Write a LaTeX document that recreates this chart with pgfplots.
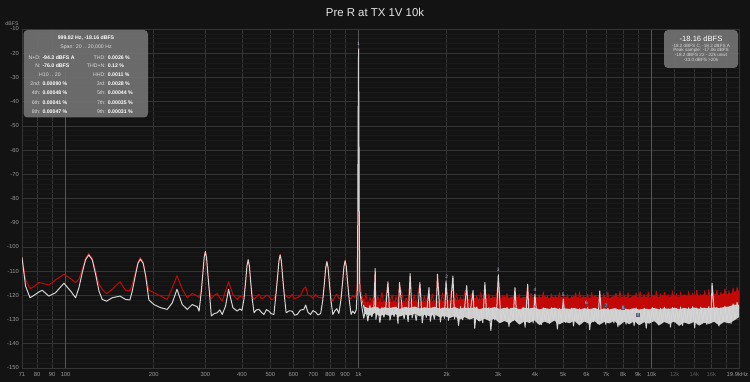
\documentclass[border=0pt]{standalone}
\usepackage{fontspec}
\setmainfont{Liberation Sans}
\usepackage{pgfplots}
\pgfplotsset{compat=1.18}
\usepackage{pgfplotstable}
\usepgfplotslibrary{fillbetween}
\definecolor{bg}{HTML}{131313}
\definecolor{gridmin}{HTML}{191919}
\definecolor{gridmaj}{HTML}{343434}
\definecolor{gridbig}{HTML}{555555}
\definecolor{trred}{HTML}{C30808}
\definecolor{trwhite}{HTML}{D4D4D4}
\definecolor{bandwhite}{HTML}{CDCDCD}
\definecolor{ticklab}{HTML}{9A9A9A}
\definecolor{tickfaint}{HTML}{5C5C5C}
\definecolor{boxfill}{HTML}{727272}
\definecolor{boxlab}{HTML}{DADADA}
\definecolor{harmlab}{HTML}{B4C2E2}
\definecolor{harmbox}{HTML}{3E4862}

\begin{document}
\pgfplotstableread{
f r w
71 -104.3 -104.3
73 -113.3 -116.1
75.6 -117.2 -121.0
78 -116.4 -120.0
81.1 -114.7 -118.6
83.2 -115.0 -117.9
87.7 -115.7 -120.3
92.4 -113.6 -118.9
98.7 -111.3 -115.0
104 -113.1 -118.2
108.2 -114.7 -121.0
111.1 -113.3 -116.8
114 -109.2 -110.6
117 -104.7 -105.3
120 -102.7 -103.3
123.3 -104.7 -105.3
126.6 -109.9 -111.3
130 -115.4 -118.2
133.4 -117.5 -121.7
138 -119.3 -122.4
144.3 -117.5 -121.0
153.3 -114.4 -120.3
160.3 -117.9 -121.7
165.8 -118.2 -121.9
168.9 -115.4 -118.2
173.4 -110.3 -111.3
176.6 -106.4 -106.8
180 -104.4 -105.0
184.1 -106.4 -106.8
187.6 -111.3 -111.9
192.5 -117.9 -121.9
200.2 -118.9 -123.8
211 -120.3 -125.1
222.3 -121.7 -125.8
231.3 -116.8 -123.1
240 -111.9 -117.5
250.2 -117.5 -123.8
260.3 -121.0 -125.8
270.6 -119.2 -123.8
281.5 -120.3 -124.7
285.6 -121.0 -126.5
290.5 -118.0 -118.5
294.1 -111.0 -111.2
297.2 -104.3 -104.4
300 -101.7 -101.9
302.8 -104.3 -104.4
305.9 -111.0 -111.2
309.6 -118.0 -118.5
314.4 -121.5 -128.5
322 -120.0 -127.5
329.4 -119.2 -127.2
336 -121.0 -126.0
342.6 -122.4 -127.9
351.7 -118.2 -124.4
360 -114.4 -117.5
372.5 -119.6 -125.1
385.5 -121.7 -126.5
393 -120.4 -125.6
400 -120.8 -126.2
406.6 -120.0 -121.3
411.7 -114.3 -114.3
416 -107.8 -107.8
420 -105.0 -105.3
424 -107.8 -107.8
428.3 -114.3 -114.3
433.4 -120.0 -121.3
440 -121.7 -127.2
448 -120.6 -126.0
457 -119.6 -125.8
466 -121.4 -127.0
475.3 -121.0 -127.9
485 -119.9 -125.9
494.3 -120.3 -126.5
504 -121.8 -127.6
514.2 -121.4 -127.9
522.7 -119.3 -119.3
529.3 -112.3 -112.3
534.9 -105.8 -105.8
540 -103.0 -103.3
545.1 -105.8 -105.8
550.7 -112.3 -112.3
557.3 -119.3 -119.3
566 -120.3 -127.2
580 -121.1 -126.4
593.7 -119.6 -126.5
605 -121.3 -128.2
617.5 -121.0 -127.9
633 -120.2 -126.1
650.5 -117.2 -125.8
660 -116.5 -124.0
672 -120.0 -127.0
685.8 -120.3 -127.9
699 -121.2 -126.3
713.3 -119.6 -126.9
727 -120.8 -128.1
742.6 -121.0 -127.5
755 -121.0 -122.1
764.6 -115.1 -115.1
772.7 -108.6 -108.6
780 -105.8 -106.1
787.3 -108.6 -108.6
795.4 -115.1 -115.1
805 -121.0 -122.1
817 -122.4 -127.9
830 -120.6 -126.4
843 -119.5 -125.5
857 -121.5 -127.5
871 -120.8 -121.7
882.2 -114.7 -114.7
891.5 -108.2 -108.2
900 -105.5 -105.7
908.5 -108.2 -108.2
917.8 -114.7 -114.7
929 -120.8 -121.7
943 -121.5 -127.9
955 -120.0 -126.5
970 -121.0 -127.5
982 -119.5 -126.0
990 -115.0 -118.0
994 -90 -90
997 -50 -50
1000 -18.16 -18.16
1003 -50 -50
1006 -90 -90
1010 -115.0 -118.0
1026 -120.2 -124.6
1042 -123.8 -129.4
1059 -119.1 -125.3
1076 -124.2 -130.6
1093 -120.8 -124.2
1110 -123.1 -128.8
1128 -119.6 -125.7
1140 -110.0 -108.9
1146 -124.5 -129.9
1164 -120.4 -124.9
1183 -123.6 -131.2
1202 -118.9 -125.1
1221 -124.0 -129.0
1240 -120.9 -124.4
1260 -115.4 -114.4
1280 -123.4 -130.2
1301 -119.8 -125.9
1322 -124.6 -128.7
1343 -120.5 -124.8
1364 -123.2 -131.6
1380 -115.7 -114.7
1408 -119.3 -125.4
1431 -124.1 -129.6
1454 -121.0 -124.9
1477 -123.5 -130.9
1500 -112.0 -111.0
1524 -124.3 -129.3
1549 -119.7 -125.6
1573 -123.9 -130.4
1599 -118.6 -124.7
1620 -115.7 -114.7
1650 -124.7 -131.4
1677 -120.1 -125.2
1703 -123.4 -129.1
1740 -117.8 -116.8
1758 -124.0 -130.7
1786 -119.4 -125.8
1815 -123.7 -129.8
1844 -120.6 -124.6
1860 -112.2 -111.2
1903 -124.2 -131.0
1934 -119.0 -125.3
1965 -123.3 -129.5
1990 -115.0 -114.0
2028 -124.5 -130.3
2060 -120.3 -124.9
2100 -113.0 -112.0
2127 -124.1 -129.7
2161 -119.2 -125.6
2195 -123.6 -132.4
2230 -120.7 -124.7
2266 -124.4 -130.1
2302 -118.8 -125.2
2340 -117.0 -116.0
2376 -123.9 -129.4
2414 -119.9 -125.5
2460 -119.0 -118.0
2492 -124.3 -133.6
2532 -120.2 -124.8
2572 -123.5 -130.5
2613 -118.9 -125.9
2655 -124.6 -131.3
2700 -115.7 -114.7
2741 -123.7 -129.8
2785 -119.5 -125.1
2829 -124.2 -134.5
2874 -120.4 -125.4
2920 -123.4 -130.2
2967 -119.0 -124.6
3000 -112.5 -111.5
3063 -124.5 -131.1
3111 -120.0 -125.7
3161 -123.8 -129.9
3212 -119.3 -125.0
3263 -124.0 -132.8
3315 -120.6 -125.3
3368 -123.6 -130.4
3420 -117.8 -116.8
3476 -124.3 -131.0
3532 -119.6 -125.9
3588 -123.5 -129.6
3646 -120.8 -124.9
3704 -124.4 -133.2
3780 -116.4 -115.4
3823 -123.9 -130.5
3884 -119.2 -125.4
3946 -124.6 -131.4
4000 -120.5 -119.5
4073 -123.7 -130.0
4138 -119.8 -126.0
4205 -124.1 -132.1
4272 -118.7 -125.2
4340 -124.5 -130.6
4410 -120.3 -125.7
4480 -123.8 -131.5
4552 -119.4 -125.1
4624 -124.7 -130.3
4698 -120.1 -126.1
4773 -124.0 -133.9
4850 -118.9 -125.4
4927 -124.3 -130.8
5000 -122.5 -121.5
5086 -124.6 -131.2
5167 -119.7 -125.8
5250 -123.9 -130.1
5334 -120.4 -125.3
5419 -124.5 -132.6
5506 -119.0 -126.2
5594 -124.1 -130.7
5683 -118.5 -125.5
5774 -124.8 -131.3
5867 -120.2 -125.9
5960 -123.7 -130.4
6056 -119.5 -125.0
6153 -124.4 -134.2
6251 -118.8 -126.0
6351 -124.6 -130.9
6452 -120.0 -125.4
6556 -124.0 -131.6
6660 -119.2 -118.2
6767 -124.7 -130.2
6875 -119.3 -125.7
6985 -124.2 -132.0
7097 -118.6 -125.2
7210 -124.9 -130.8
7326 -120.5 -126.1
7443 -124.3 -131.4
7562 -119.1 -125.5
7683 -124.6 -133.0
7806 -118.4 -125.9
7931 -124.0 -130.6
8058 -119.8 -125.3
8187 -124.8 -131.9
8318 -118.9 -126.0
8451 -124.4 -130.4
8586 -120.2 -125.6
8724 -124.7 -132.5
8863 -119.0 -125.2
9005 -124.1 -131.1
9149 -118.5 -125.8
9295 -124.9 -130.7
9444 -119.6 -125.4
9595 -124.3 -133.5
9749 -118.7 -126.0
9905 -124.6 -131.0
10063 -119.9 -125.1
10224 -124.2 -130.5
10388 -118.3 -125.7
10554 -124.8 -132.2
10723 -119.4 -125.3
10895 -124.5 -131.3
11069 -118.8 -124.9
11246 -124.0 -130.8
11426 -119.7 -125.6
11609 -124.7 -133.1
11795 -118.2 -125.0
11984 -124.3 -131.0
12175 -119.3 -125.5
12370 -124.9 -130.4
12568 -118.6 -124.8
12769 -124.4 -132.4
12974 -119.8 -125.4
13181 -124.1 -131.2
13392 -118.4 -125.1
13606 -124.6 -130.6
13824 -119.1 -124.7
14045 -124.8 -133.4
14270 -117.9 -125.3
14498 -124.2 -131.1
14730 -119.5 -124.9
14966 -124.5 -130.9
15205 -118.1 -125.5
15448 -124.0 -132.0
15696 -117.6 -124.6
15947 -124.7 -131.3
16100 -116.0 -115.0
16461 -124.1 -130.7
16725 -117.9 -124.9
16992 -124.4 -132.7
17264 -118.7 -125.2
17540 -123.9 -131.0
17821 -117.3 -124.5
18106 -124.3 -130.5
18396 -118.2 -124.8
18690 -123.6 -131.6
18989 -117.0 -123.6
19293 -123.2 -129.8
19602 -116.8 -122.9
19900 -119.5 -125.5
}\spectrum
% envelopes of the noise bands above 1 kHz: red top, white top, white bottom
\pgfplotstableread{
f ru wu lo
1010 -118.0 -118.0 -118.0
1050 -122.6 -124.8 -127.6
1092 -122.9 -125.3 -128.4
1136 -122.2 -124.6 -127.3
1181 -123.0 -125.5 -128.6
1229 -122.5 -124.9 -127.8
1278 -122.8 -125.2 -128.5
1329 -122.3 -124.7 -127.6
1382 -123.0 -125.6 -128.8
1437 -122.4 -124.8 -127.9
1495 -122.7 -125.1 -128.3
1555 -122.2 -124.6 -127.5
1617 -122.9 -125.4 -128.7
1682 -122.4 -124.9 -128.0
1749 -122.8 -125.3 -128.6
1819 -122.1 -124.7 -127.9
1892 -122.6 -125.5 -129.0
1967 -122.0 -125.0 -128.5
2046 -122.3 -125.4 -129.4
2128 -121.6 -124.8 -128.6
2213 -122.0 -125.6 -130.0
2301 -121.3 -125.0 -129.0
2393 -121.8 -125.3 -130.0
2489 -121.1 -124.9 -129.3
2589 -121.6 -125.7 -130.8
2692 -120.8 -125.1 -129.6
2800 -121.3 -125.4 -130.6
2912 -120.7 -124.8 -129.5
3028 -121.4 -125.6 -131.5
3150 -120.4 -125.2 -130.6
3276 -121.0 -125.5 -131.6
3407 -120.2 -125.0 -130.2
3543 -121.2 -125.7 -132.1
3685 -120.6 -125.1 -130.7
3832 -121.3 -125.4 -131.4
3985 -120.4 -125.0 -130.3
4145 -121.0 -125.8 -132.3
4310 -120.3 -125.2 -130.8
4483 -121.2 -125.6 -131.7
4662 -120.5 -125.1 -130.4
4849 -121.0 -125.7 -132.0
5043 -120.4 -125.3 -130.9
5244 -121.3 -125.6 -131.5
5454 -120.2 -125.2 -130.5
5672 -121.1 -125.8 -132.4
5899 -120.6 -125.3 -130.8
6135 -121.2 -125.7 -131.8
6380 -120.3 -125.2 -130.6
6636 -121.0 -125.9 -132.2
6901 -120.5 -125.4 -131.0
7177 -121.3 -125.8 -131.6
7464 -120.2 -125.3 -130.5
7763 -121.0 -125.9 -132.5
8073 -120.4 -125.4 -130.9
8396 -121.2 -125.8 -131.9
8732 -120.1 -125.3 -130.7
9082 -120.9 -125.9 -132.3
9445 -120.3 -125.4 -131.1
9823 -121.0 -125.7 -131.7
10216 -120.0 -125.2 -130.6
10624 -120.8 -125.8 -132.4
11049 -119.9 -125.3 -131.0
11491 -120.7 -125.6 -131.8
11951 -119.8 -125.1 -130.8
12429 -120.6 -125.7 -132.6
12926 -119.7 -125.2 -131.2
13443 -120.5 -125.6 -131.9
13981 -119.6 -125.0 -130.9
14540 -120.4 -125.5 -132.5
15122 -119.5 -125.1 -131.3
15727 -120.2 -125.4 -131.8
16356 -119.3 -124.9 -130.9
17010 -120.0 -125.3 -132.4
17690 -119.1 -124.8 -131.0
18398 -119.6 -124.6 -131.6
19134 -118.5 -123.8 -130.4
19900 -118.0 -124.0 -129.0
}\envelope
\begin{tikzpicture}[x=1pt,y=1pt,
  lab/.style={inner sep=0pt, font=\fontsize{5.2}{6}\selectfont, text=boxlab},
  val/.style={inner sep=0pt, font=\bfseries\fontsize{5.2}{6}\selectfont, text=white},
  hl/.style={inner sep=0.5pt, text=harmlab, font=\fontsize{4.8}{5}\selectfont},
  hb/.style={hl, fill=harmbox, fill opacity=0.85, text opacity=1}]
\pgfplotsset{set layers}
\begin{axis}[
  at={(22pt,14pt)}, anchor=south west,
  scale only axis, width=717pt, height=339pt,
  xmode=log, log basis x=10,
  xmin=71, xmax=19900, ymin=-150, ymax=-10,
  axis line style={draw=gridmaj, line width=0.6pt},
  major tick length=0pt, minor tick length=0pt,
  tick style={draw=none},
  xmajorgrids=true, xminorgrids=false,
  ymajorgrids=true, yminorgrids=true,
  minor y tick num=4,
  major grid style={draw=gridmaj, line width=0.6pt},
  minor grid style={draw=gridmin, line width=0.4pt},
  xtick={71,80,90,200,300,400,500,600,700,800,900,2000,3000,4000,5000,6000,7000,8000,9000,12000,14000,16000,18000,19900},
  xticklabels={71,80,90,200,300,400,500,600,700,800,900,2k,3k,4k,5k,6k,7k,8k,9k,\textcolor{tickfaint}{12k},\textcolor{tickfaint}{14k},\textcolor{tickfaint}{16k},,\makebox[18pt][r]{19.9kHz}},
  extra x ticks={100,1000,10000},
  extra x tick labels={100,1k,10k},
  extra x tick style={major grid style={draw=gridbig, line width=0.8pt}},
  ytick={-150,-140,-130,-120,-110,-100,-90,-80,-70,-60,-50,-40,-30,-20,-10},
  yticklabels={-150,-140,-130,-120,-110,-100,-90,-80,-70,-60,-50,-40,-30,-20,-10},
  tick label style={font=\fontsize{5.8}{7}\selectfont, text=ticklab},
  xticklabel style={anchor=base, inner sep=0pt, yshift=-9pt},
  yticklabel style={anchor=east, inner sep=0pt, xshift=-3pt},
  clip=true,
]
\addplot[draw=none, name path=RU, forget plot] table[x=f, y=ru] {\envelope};
\addplot[draw=none, name path=WU, forget plot] table[x=f, y=wu] {\envelope};
\addplot[draw=none, name path=LO, forget plot] table[x=f, y=lo] {\envelope};
\addplot[fill=trred, draw=none, forget plot] fill between[of=RU and WU];
\addplot[draw=trred, line width=1pt, line join=round] table[x=f, y=r] {\spectrum};
\addplot[fill=bandwhite, draw=none, forget plot] fill between[of=WU and LO];
\addplot[draw=trwhite, line width=1pt, line join=round] table[x=f, y=w] {\spectrum};
% harmonic number labels
\node[hl] at (axis cs:1000,-16.2) {1};
\node[hl] at (axis cs:2000,-112.2) {2};
\node[hl] at (axis cs:3000,-109.6) {3};
\node[hl] at (axis cs:4000,-117.6) {4};
\node[hl] at (axis cs:5000,-119.6) {5};
\node[hb] at (axis cs:6000,-123.3) {6};
\node[hb] at (axis cs:7000,-124.4) {7};
\node[hb] at (axis cs:8000,-125.0) {8};
\node[hb] at (axis cs:9000,-128.1) {9};
\end{axis}
\begin{pgfonlayer}{axis background}
\fill[bg] (0,0) rectangle (750,382);
\end{pgfonlayer}
% title and unit
\node[font=\fontsize{11.4}{13}\selectfont, text=white!90!black] at (375,370) {Pre R at TX 1V 10k};
\node[font=\fontsize{5.2}{6}\selectfont, text=ticklab] at (12,358.5) {dBFS};
% left info box
\fill[boxfill, opacity=0.92, rounded corners=4pt] (23.5,264.5) rectangle (148,352);
\node[val, anchor=base] at (86,342.8) {999.82 Hz, -18.16 dBFS};
\node[lab, anchor=base] at (86,333.4) {Span: 20 .. 20,000 Hz};
\newcommand{\boxrow}[5]{%
  \node[lab, anchor=base east] at (40.7,#1) {#2};
  \node[val, anchor=base west] at (42.3,#1) {#3};
  \node[lab, anchor=base east] at (106,#1) {#4};
  \node[val, anchor=base west] at (107.7,#1) {#5};}
\boxrow{322.4}{N+D:}{-94.3 dBFS A}{THD:}{0.0026 \%}
\boxrow{314.4}{N:}{-76.0 dBFS}{THD+N:}{0.12 \%}
\node[lab, anchor=base west] at (39,305.8) {H10 .. 20};
\node[lab, anchor=base east] at (106,305.8) {HHD:};
\node[val, anchor=base west] at (107.7,305.8) {0.0011 \%};
\boxrow{296.8}{2nd:}{0.00090 \%}{3rd:}{0.0028 \%}
\boxrow{287.4}{4th:}{0.00048 \%}{5th:}{0.00044 \%}
\boxrow{277.8}{6th:}{0.00041 \%}{7th:}{0.00035 \%}
\boxrow{268.4}{8th:}{0.00047 \%}{9th:}{0.00031 \%}
% right level box
\fill[boxfill, opacity=0.92, rounded corners=4pt] (664,314) rectangle (738,352);
\node[font=\fontsize{7.6}{9}\selectfont, text=white] at (701,343.7) {-18.16 dBFS};
\node[font=\fontsize{4.6}{5}\selectfont, text=boxlab] at (701,336.3) {-18.2 dBFS C, -18.2 dBFS A};
\node[font=\fontsize{4.6}{5}\selectfont, text=boxlab] at (701,331.5) {Peak sample: -17.06 dBFS};
\node[font=\fontsize{4.6}{5}\selectfont, text=boxlab] at (701,327) {-18.2 dBFS 22 - 22k unwt};
\node[font=\fontsize{4.6}{5}\selectfont, text=boxlab] at (701,322.5) {-33.0 dBFS >20k};
\pgfresetboundingbox
\path (0,0) rectangle (750,382);
\end{tikzpicture}
\end{document}
